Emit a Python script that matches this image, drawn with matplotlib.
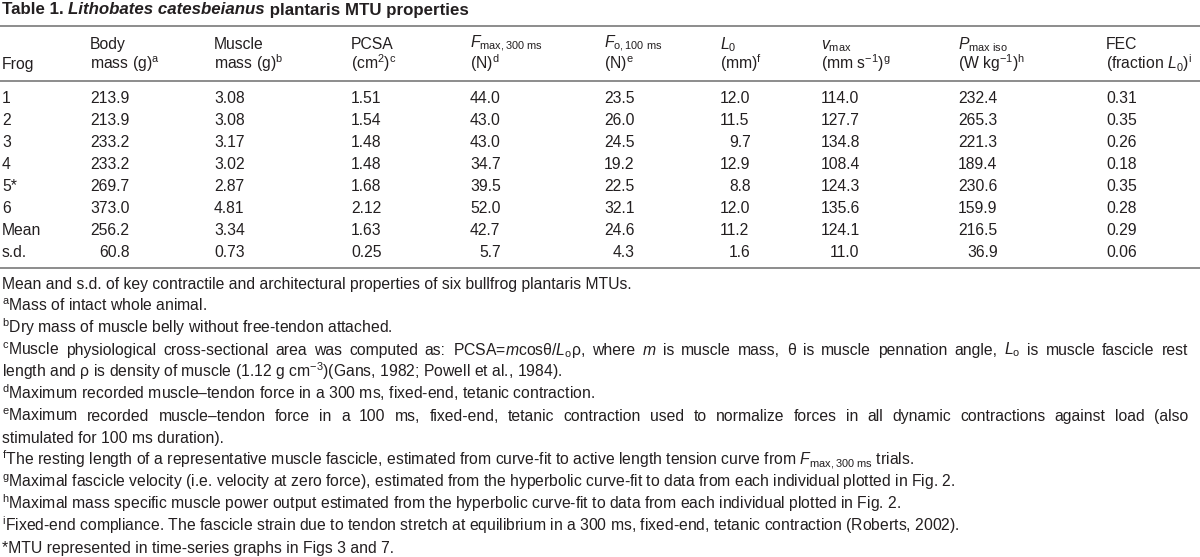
import matplotlib
matplotlib.use("Agg")
import matplotlib.pyplot as plt

plt.rcParams['font.family'] = ['Liberation Sans', 'DejaVu Sans']
plt.rcParams['mathtext.fontset'] = 'custom'
plt.rcParams['mathtext.rm'] = 'Liberation Sans'
plt.rcParams['mathtext.it'] = 'Liberation Sans:italic'
plt.rcParams['mathtext.bf'] = 'Liberation Sans:bold'

# table data
frogs = ['1', '2', '3', '4', '5*', '6', 'Mean', 's.d.']
body_mass = [213.9, 213.9, 233.2, 233.2, 269.7, 373.0, 256.2, 60.8]
muscle_mass = [3.08, 3.08, 3.17, 3.02, 2.87, 4.81, 3.34, 0.73]
pcsa = [1.51, 1.54, 1.48, 1.48, 1.68, 2.12, 1.63, 0.25]
f_max = [44.0, 43.0, 43.0, 34.7, 39.5, 52.0, 42.7, 5.7]
f_o = [23.5, 26.0, 24.5, 19.2, 22.5, 32.1, 24.6, 4.3]
l_0 = [12.0, 11.5, 9.7, 12.9, 8.8, 12.0, 11.2, 1.6]
v_max = [114.0, 127.7, 134.8, 108.4, 124.3, 135.6, 124.1, 11.0]
p_max = [232.4, 265.3, 221.3, 189.4, 230.6, 159.9, 216.5, 36.9]
fec = [0.31, 0.35, 0.26, 0.18, 0.35, 0.28, 0.29, 0.06]

headers = [
    ('', 'Frog'),
    ('Body', r'mass (g)$^{\mathrm{a}}$'),
    ('Muscle', r'mass (g)$^{\mathrm{b}}$'),
    ('PCSA', r'(cm$^{2}$)$^{\mathrm{c}}$'),
    (r'$F_{\mathrm{max,300\ ms}}$', r'(N)$^{\mathrm{d}}$'),
    (r'$F_{\mathrm{o,100\ ms}}$', r'(N)$^{\mathrm{e}}$'),
    (r'$L_{0}$', r'(mm)$^{\mathrm{f}}$'),
    (r'$v_{\mathrm{max}}$', r'(mm s$^{-1}$)$^{\mathrm{g}}$'),
    (r'$P_{\mathrm{max\ iso}}$', r'(W kg$^{-1}$)$^{\mathrm{h}}$'),
    ('FEC', r'(fraction $L_{0}$)$^{\mathrm{i}}$'),
]

# (text, justified to full width?)
footnotes = [
    ('Mean and s.d. of key contractile and architectural properties of six bullfrog plantaris MTUs.', False),
    (r'$^{\mathrm{a}}$Mass of intact whole animal.', False),
    (r'$^{\mathrm{b}}$Dry mass of muscle belly without free-tendon attached.', False),
    (r'$^{\mathrm{c}}$Muscle physiological cross-sectional area was computed as: PCSA=$m$cosθ/$L_{\mathrm{o}}$ρ, '
     r'where $m$ is muscle mass, θ is muscle pennation angle, $L_{\mathrm{o}}$ is muscle fascicle rest', True),
    (r'length and ρ is density of muscle (1.12 g cm$^{-3}$)(Gans, 1982; Powell et al., 1984).', False),
    (r'$^{\mathrm{d}}$Maximum recorded muscle–tendon force in a 300 ms, fixed-end, tetanic contraction.', False),
    (r'$^{\mathrm{e}}$Maximum recorded muscle–tendon force in a 100 ms, fixed-end, tetanic contraction used '
     r'to normalize forces in all dynamic contractions against load (also', True),
    ('stimulated for 100 ms duration).', False),
    (r'$^{\mathrm{f}}$The resting length of a representative muscle fascicle, estimated from curve-fit to '
     r'active length tension curve from $F_{\mathrm{max,300\ ms}}$ trials.', False),
    (r'$^{\mathrm{g}}$Maximal fascicle velocity (i.e. velocity at zero force), estimated from the hyperbolic '
     r'curve-fit to data from each individual plotted in Fig. 2.', False),
    (r'$^{\mathrm{h}}$Maximal mass specific muscle power output estimated from the hyperbolic curve-fit to '
     r'data from each individual plotted in Fig. 2.', False),
    (r'$^{\mathrm{i}}$Fixed-end compliance. The fascicle strain due to tendon stretch at equilibrium in a '
     r'300 ms, fixed-end, tetanic contraction (Roberts, 2002).', False),
    ('*MTU represented in time-series graphs in Figs 3 and 7.', False),
]

columns = [frogs, body_mass, muscle_mass, pcsa, f_max, f_o, l_0, v_max, p_max, fec]
decimals = [None, 1, 2, 2, 1, 1, 1, 1, 1, 2]
col_x = [2, 90, 214, 351, 470, 604, 720, 821, 958, 1106]

fig = plt.figure(figsize=(12, 5.57), dpi=100)
ax = fig.add_axes([0, 0, 1, 1])
ax.set_xlim(0, 1200)
ax.set_ylim(557, 0)
ax.axis('off')
renderer = fig.canvas.get_renderer()

fs = 11.3
txt = '#231f20'
rule = '#8c8c8c'


def width(t):
    # width in data units (1 unit = 1 pixel here)
    return t.get_window_extent(renderer).width * 1200 / fig.bbox.width


def str_width(s, **kw):
    t = ax.text(0, 0, s, **kw)
    w = width(t)
    t.remove()
    return w


# title in three pieces
x = 2
for piece, style in [('Table 1. ', 'normal'), ('Lithobates catesbeianus', 'italic'),
                     (' plantaris MTU properties', 'normal')]:
    t = ax.text(x, 14.5, piece, fontsize=12.2, fontweight='bold', style=style,
                color=txt, va='baseline', ha='left')
    x += width(t)

# rules
for y in [25.5, 80.5, 267.5]:
    ax.plot([0, 1200], [y, y], color=rule, lw=1.4, solid_capstyle='butt')

# header
for cx, (h1, h2) in zip(col_x, headers):
    if h1:
        y1 = 47.5 if h1.startswith('$F') else 49.3
        ax.text(cx, y1, h1, fontsize=fs, color=txt, va='baseline', ha='left')
    ax.text(cx, 69.3, h2, fontsize=fs, color=txt, va='baseline', ha='left')

# body rows: digits are tabular, so right align on character advances
digit_adv = str_width('00', fontsize=fs) - str_width('0', fontsize=fs)
dot_adv = str_width('0.0', fontsize=fs) - str_width('00', fontsize=fs)


def adv(s):
    return sum(dot_adv if c == '.' else digit_adv for c in s)


row_y = [103.3 + 21.9 * i for i in range(len(frogs))]
for cx, vals, dec in zip(col_x, columns, decimals):
    if dec is None:
        for y, v in zip(row_y, vals):
            ax.text(cx, y, v, fontsize=fs, color=txt, va='baseline', ha='left')
        continue
    strs = [f'{v:.{dec}f}' for v in vals]
    amax = max(adv(s) for s in strs)
    for y, s in zip(row_y, strs):
        ax.text(cx + amax - adv(s), y, s, fontsize=fs, color=txt, va='baseline', ha='left')

# footnotes; the wrapped first lines are justified out to the right margin
right_edge = 1188
for i, (line, justify) in enumerate(footnotes):
    y = 288.5 + 22.05 * i
    if not justify:
        ax.text(2, y, line, fontsize=fs, color=txt, va='baseline', ha='left')
        continue
    words = line.split(' ')
    wt = [ax.text(0, y, w, fontsize=fs, color=txt, va='baseline', ha='left') for w in words]
    ww = [width(t) for t in wt]
    gap = (right_edge - 2 - sum(ww)) / (len(words) - 1)
    x = 2
    for t, w in zip(wt, ww):
        t.set_x(x)
        x += w + gap

fig.savefig('out.png', dpi=100, facecolor='white')
